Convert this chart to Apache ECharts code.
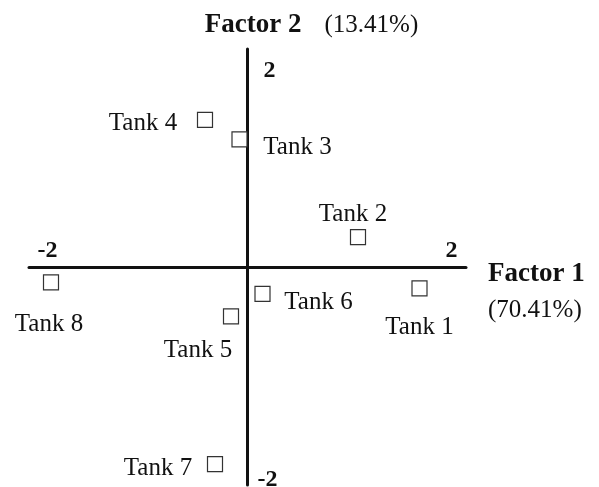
<!DOCTYPE html>
<html>
<head>
<meta charset="utf-8">
<script src="https://cdn.jsdelivr.net/npm/echarts@6/dist/echarts.min.js"></script>
<style>
  html, body { margin: 0; padding: 0; background: #fff; }
  #chart { width: 599px; height: 487px; }
</style>
</head>
<body>
<div id="chart"></div>
<script>
// Factor scores of the eight tanks
const tanks   = ['Tank 1', 'Tank 2', 'Tank 3', 'Tank 4', 'Tank 5', 'Tank 6', 'Tank 7', 'Tank 8'];
const factor1 = [1.72, 1.105, -0.08, -0.425, -0.165, 0.15, -0.325, -1.965];
const factor2 = [-0.215, 0.30, 1.28, 1.475, -0.495, -0.27, -1.975, -0.155];

// Axis labels
const xTicks = [-2, 2];
const yTicks = [-2, 2];
const xName = 'Factor 1';
const xShare = '(70.41%)';
const yName = 'Factor 2';
const yShare = '(13.41%)';

// Where each tank's name sits relative to its marker (pixels)
const labelOffsets = {
  'Tank 1': [0, 39],
  'Tank 2': [-5, -23],
  'Tank 3': [58, 8],
  'Tank 4': [-62, 4],
  'Tank 5': [-33, 34],
  'Tank 6': [56, 8],
  'Tank 7': [-57, 4],
  'Tank 8': [-2, 42]
};

const SERIF = '"Liberation Serif", "Times New Roman", serif';
const INK = '#111';
const LIMIT = 2.185;
const TICK_FONT = { fontFamily: SERIF, fontWeight: 'bold', fontSize: 24, color: INK };

// Plot area; both ranges are symmetric, so the axes cross at its centre
const GRID = { left: 29, right: 133, top: 49, bottom: 2 };
const W = 599, H = 487;
const plotW = W - GRID.left - GRID.right;
const plotH = H - GRID.top - GRID.bottom;

const points = tanks.map((name, i) => ({
  name: name,
  value: [factor1[i], factor2[i]],
  label: { offset: labelOffsets[name] }
}));

const chart = echarts.init(document.getElementById('chart'), null, { renderer: 'canvas' });

chart.setOption({
  animation: false,
  backgroundColor: '#fff',
  grid: Object.assign({ containLabel: false, outerBoundsMode: 'none' }, GRID),
  xAxis: {
    type: 'value',
    position: 'bottom',
    offset: -plotH / 2,
    min: -LIMIT,
    max: LIMIT,
    splitLine: { show: false },
    axisTick: { show: false },
    axisLine: { onZero: false, lineStyle: { color: INK, width: 3 } },
    axisLabel: {
      customValues: xTicks,
      inside: true,
      margin: 4,
      formatter: v => (v < 0 ? '{neg|' + v + '}' : '{pos|' + v + '}'),
      rich: {
        pos: Object.assign({ padding: [0, 0, 0, 8] }, TICK_FONT),
        neg: Object.assign({}, TICK_FONT)
      }
    },
    name: '{b|' + xName + '}\n{r|' + xShare + '}',
    nameLocation: 'end',
    nameGap: 22,
    nameTextStyle: {
      align: 'left',
      verticalAlign: 'middle',
      padding: [51, 0, 0, 0],
      rich: {
        b: { fontFamily: SERIF, fontWeight: 'bold', fontSize: 27, lineHeight: 36, color: INK },
        r: { fontFamily: SERIF, fontSize: 25, lineHeight: 36, color: INK }
      }
    }
  },
  yAxis: {
    type: 'value',
    position: 'left',
    offset: -plotW / 2,
    min: -LIMIT,
    max: LIMIT,
    splitLine: { show: false },
    axisTick: { show: false },
    axisLine: { onZero: false, lineStyle: { color: INK, width: 3 } },
    axisLabel: {
      customValues: yTicks,
      inside: true,
      margin: 10,
      formatter: v => (v < 0 ? '{neg|' + v + '}' : '{pos|' + v + '}'),
      rich: {
        pos: Object.assign({ padding: [6, 0, 0, 6] }, TICK_FONT),
        neg: Object.assign({ padding: [27, 0, 0, 0] }, TICK_FONT)
      }
    },
    name: '{b|' + yName + '}{r|' + yShare + '}',
    nameLocation: 'end',
    nameGap: 24,
    nameTextStyle: {
      align: 'center',
      verticalAlign: 'middle',
      padding: [0, 0, 0, 128],
      rich: {
        b: { fontFamily: SERIF, fontWeight: 'bold', fontSize: 27, color: INK },
        r: { fontFamily: SERIF, fontSize: 25, color: INK, padding: [0, 0, 0, 23] }
      }
    }
  },
  series: [{
    type: 'scatter',
    symbol: 'rect',
    symbolSize: 15,
    data: points,
    itemStyle: { color: '#fff', borderColor: '#333', borderWidth: 1.2, opacity: 1 },
    label: {
      show: true,
      position: 'inside',
      align: 'center',
      verticalAlign: 'middle',
      formatter: p => p.name,
      fontFamily: SERIF,
      fontSize: 25,
      color: INK
    },
    emphasis: { disabled: true },
    z: 3
  }]
});
</script>
</body>
</html>
